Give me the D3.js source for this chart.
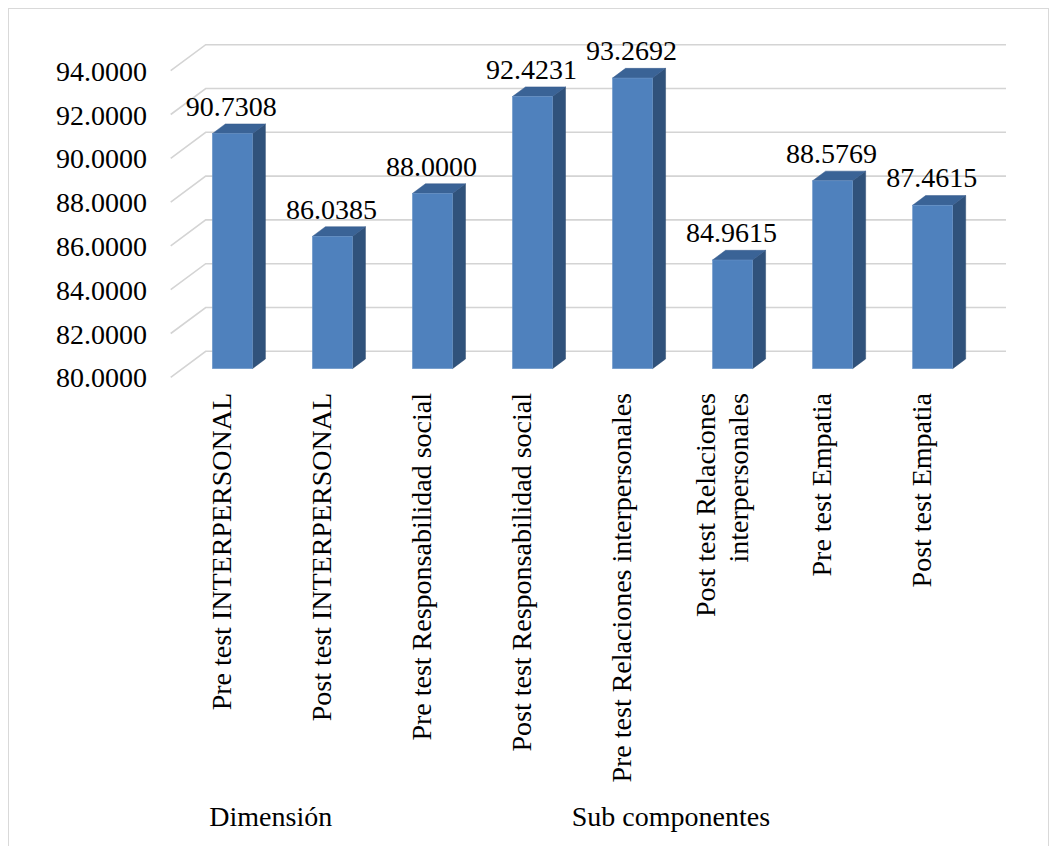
<!DOCTYPE html>
<html>
<head>
<meta charset="utf-8">
<script src="https://cdn.jsdelivr.net/npm/d3@7"></script>
<style>
  body { margin: 0; background: #fff; }
  svg text { font-family: "Liberation Serif", "Times New Roman", serif; fill: #000; }
</style>
</head>
<body>
<svg width="1057" height="846"></svg>
<script>
// data
var categories = ["Pre test INTERPERSONAL", "Post test INTERPERSONAL", "Pre test Responsabilidad social",
  "Post test Responsabilidad social", "Pre test Relaciones interpersonales",
  "Post test Relaciones interpersonales", "Pre test Empatia", "Post test Empatia"];
var tickLabels = ["Pre test INTERPERSONAL", "Post test INTERPERSONAL", "Pre test Responsabilidad social",
  "Post test Responsabilidad social", "Pre test Relaciones interpersonales",
  "Post test Relaciones\ninterpersonales", "Pre test Empatia", "Post test Empatia"];
var values = [90.7308, 86.0385, 88.0000, 92.4231, 93.2692, 84.9615, 88.5769, 87.4615];
var groups = [
  { name: "Dimensión", from: 0, to: 1 },
  { name: "Sub componentes", from: 2, to: 7 }
];
var yTicks = [80, 82, 84, 86, 88, 90, 92, 94];

var svg = d3.select("svg");

// outer frame
svg.append("rect")
  .attr("x", 8.5).attr("y", 8.5).attr("width", 1040).attr("height", 860)
  .attr("fill", "none").attr("stroke", "#d9d9d9").attr("stroke-width", 1);

// front plane scales, depth goes back by (depthX, depthY)
var depthX = 35, depthY = -26;
var y = d3.scaleLinear().domain([80, 94]).range([377.3, 70.7]);
var x = d3.scaleBand().domain(categories).range([170.7, 971]).paddingInner(0.6).paddingOuter(0.3);
var fmt = d3.format(".4f");

function off(d) { return [depthX * d, depthY * d]; }

// gridlines: side wall diagonal + back wall
var grid = svg.append("g").attr("stroke", "#d4d4d4").attr("stroke-width", 1.6).attr("fill", "none");
var x0 = x.range()[0], x1 = x.range()[1];
yTicks.forEach(function(t) {
  grid.append("path").attr("d", "M" + x0 + "," + y(t) + "L" + (x0 + depthX) + "," + (y(t) + depthY) +
    "L" + (x1 + depthX) + "," + (y(t) + depthY));
});

// y axis labels
svg.append("g").selectAll("text")
  .data(yTicks)
  .enter().append("text")
    .attr("x", 147)
    .attr("y", function(d) { return y(d) + 10; })
    .attr("text-anchor", "end")
    .style("font-size", "28px")
    .text(function(d) { return fmt(d); });

// 3d bars
var d1 = 0.333, d2 = 0.705;
var bars = svg.append("g");
categories.forEach(function(c, i) {
  var v = values[i];
  var a = off(d1), b = off(d2);
  var xl = x(c) + a[0], xr = x(c) + x.bandwidth() + a[0];
  var yt = y(v) + a[1], yb = y(80) + a[1];
  var dx = b[0] - a[0], dy = b[1] - a[1];
  // side
  bars.append("path")
    .attr("d", "M" + xr + "," + yt + "L" + (xr + dx) + "," + (yt + dy) + "L" + (xr + dx) + "," + (yb + dy) + "L" + xr + "," + yb + "Z")
    .attr("fill", "#30527b").attr("stroke", "#2c4b70").attr("stroke-width", 0.5);
  // top
  bars.append("path")
    .attr("d", "M" + xl + "," + yt + "L" + (xl + dx) + "," + (yt + dy) + "L" + (xr + dx) + "," + (yt + dy) + "L" + xr + "," + yt + "Z")
    .attr("fill", "#3a6396").attr("stroke", "#35598a").attr("stroke-width", 0.5);
  // front
  bars.append("rect")
    .attr("x", xl).attr("y", yt).attr("width", x.bandwidth()).attr("height", yb - yt)
    .attr("fill", "#4f81bd").attr("stroke", "#6a95c9").attr("stroke-width", 0.6);
  // value label
  svg.append("text")
    .attr("x", xl + x.bandwidth() / 2 - 1)
    .attr("y", y(v) - 26.5)
    .attr("text-anchor", "middle")
    .style("font-size", "28px")
    .text(fmt(v));
});

// category labels, rotated
var lab = svg.append("g");
categories.forEach(function(c, i) {
  var lines = tickLabels[i].split("\n");
  var cx = x(c) + x.bandwidth() / 2;
  lines.forEach(function(line, j) {
    var shift = (j - (lines.length - 1) / 2) * 32.4;
    lab.append("text")
      .attr("transform", "translate(" + (cx + shift + 10.5) + ",393) rotate(-90)")
      .attr("text-anchor", "end")
      .style("font-size", "28px")
      .text(line);
  });
});

// group labels
groups.forEach(function(g) {
  var left = x(categories[g.from]) - x.step() * 0.3;
  var right = x(categories[g.to]) + x.bandwidth() + x.step() * 0.3;
  svg.append("text")
    .attr("x", (left + right) / 2)
    .attr("y", 826)
    .attr("text-anchor", "middle")
    .style("font-size", "28px")
    .text(g.name);
});
</script>
</body>
</html>
